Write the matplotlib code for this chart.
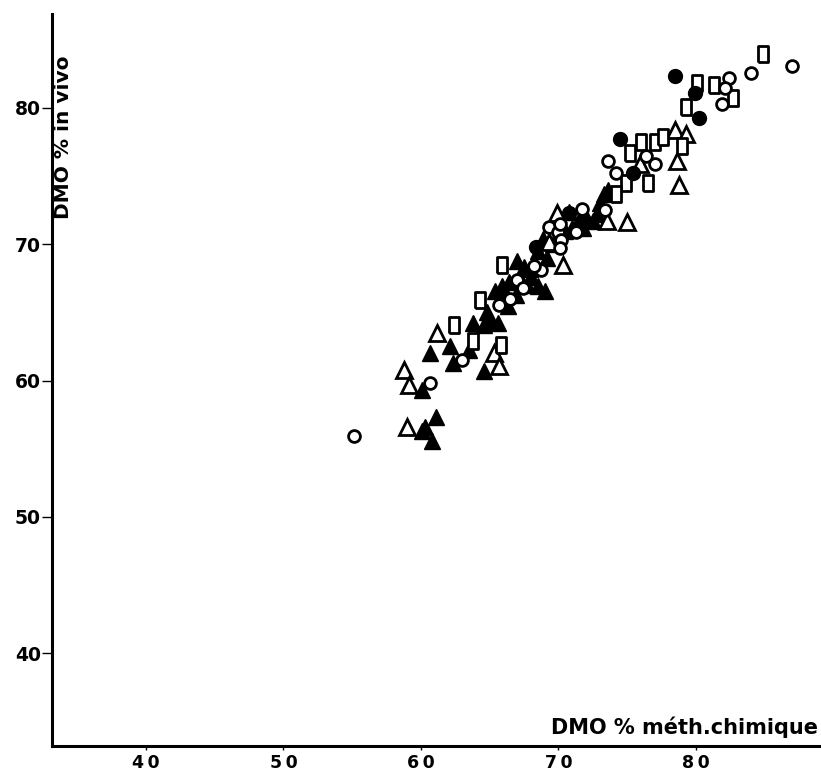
import numpy as np
import matplotlib
matplotlib.use("Agg")
import matplotlib.pyplot as plt

plt.rcParams.update({"font.family": "DejaVu Sans", "font.weight": "bold"})

# DMO % by chemical method (x) vs DMO % in vivo (y), one pair of lists per marker
open_circle_x = [86.96, 84.0, 82.4, 82.15, 81.9, 76.4, 77.0, 73.6, 74.2, 71.7,
                 73.4, 69.3, 70.0, 71.3, 70.2, 70.1, 68.7, 67.0, 66.5, 65.7,
                 62.95, 60.65, 55.1, 68.2, 70.1, 67.4]
open_circle_y = [83.1, 82.6, 82.2, 81.5, 80.3, 76.5, 75.9, 76.1, 75.2, 72.6,
                 72.5, 71.3, 70.9, 70.9, 70.3, 69.7, 68.1, 67.4, 66.0, 65.55,
                 61.5, 59.8, 55.95, 68.4, 71.5, 66.8]

filled_circle_x = [78.5, 79.9, 80.2, 74.5, 75.45, 70.8, 68.4]
filled_circle_y = [82.35, 81.1, 79.3, 77.7, 75.2, 72.3, 69.8]

open_square_x = [84.9, 80.05, 81.3, 82.7, 79.3, 78.96, 76.0, 77.0, 77.6, 75.2,
                 76.5, 74.9, 74.2, 65.9, 64.3, 62.4, 63.8, 65.8]
open_square_y = [83.96, 81.8, 81.7, 80.7, 80.1, 77.2, 77.5, 77.5, 77.85, 76.7,
                 74.5, 74.5, 73.7, 68.5, 65.9, 64.1, 62.9, 62.6]

open_tri_x = [78.5, 79.3, 78.6, 78.8, 75.9, 75.0, 73.5, 69.9, 69.3, 70.35,
              61.2, 65.3, 65.7, 58.8, 59.1, 58.95]
open_tri_y = [78.4, 78.1, 76.1, 74.35, 75.9, 71.6, 71.7, 72.3, 70.2, 68.5,
              63.5, 62.0, 61.1, 60.8, 59.7, 56.6]

filled_tri_x = [73.3, 73.6, 72.5, 67.9, 69.0, 65.4, 63.8, 65.6, 64.6, 65.0,
                60.65, 62.1, 62.3, 63.5, 64.6, 60.05, 61.1, 60.05, 60.8, 60.3,
                67.3, 66.4, 67.7, 68.5, 65.9, 67.5, 68.5, 71.5, 72.0, 66.3,
                64.8, 69.2, 70.5, 69.6, 66.9, 68.0, 71.0, 72.8, 73.0, 69.8,
                68.9, 67.0, 66.0, 70.8, 71.8]
filled_tri_y = [73.7, 74.0, 71.7, 68.2, 66.6, 66.6, 64.2, 64.2, 64.1, 64.45,
                62.0, 62.5, 61.3, 62.25, 60.7, 59.3, 57.35, 56.3, 55.55, 56.6,
                67.4, 67.2, 67.0, 66.9, 66.9, 68.3, 69.5, 71.8, 72.0, 65.5,
                65.0, 69.0, 71.0, 70.0, 66.3, 67.6, 71.2, 72.2, 73.0, 71.6,
                70.4, 68.8, 65.9, 72.4, 71.2]

x_ticks = [40, 50, 60, 70, 80]
y_ticks = [40, 50, 60, 70, 80]

# tall rectangle used in the original instead of a true square
RECT = [(-0.32, -0.5), (0.32, -0.5), (0.32, 0.5), (-0.32, 0.5), (-0.32, -0.5)]

fig = plt.figure(figsize=(8.21, 7.75), dpi=100)
ax = fig.add_axes([0.0633, 0.0374, 0.9367, 0.9446])

mew = 2.0
ax.plot(filled_tri_x, filled_tri_y, "^", ms=12, color="black", mec="black",
        mew=1.0, ls="none")
ax.plot(open_tri_x, open_tri_y, "^", ms=12, mfc="white", mec="black",
        mew=mew, ls="none")
ax.plot(open_square_x, open_square_y, marker=RECT, ms=12, mfc="white",
        mec="black", mew=mew, ls="none")
ax.plot(open_circle_x, open_circle_y, "o", ms=8.5, mfc="white", mec="black",
        mew=mew, ls="none")
ax.plot(filled_circle_x, filled_circle_y, "o", ms=10, color="black", ls="none")

ax.set_xlim(33.16, 89.1)
ax.set_ylim(33.18, 86.9)
ax.set_xticks(x_ticks)
ax.set_yticks(y_ticks)
ax.set_xticklabels([f"{v // 10}\u2009{v % 10}" for v in x_ticks],
                   fontsize=12.5, fontweight="bold")
ax.set_yticklabels([str(v) for v in y_ticks], fontsize=13.5, fontweight="bold")
ax.tick_params(axis="x", length=3, width=1, pad=3)
ax.tick_params(axis="y", length=7, width=1, pad=1)

for side in ("top", "right"):
    ax.spines[side].set_visible(False)
for side in ("left", "bottom"):
    ax.spines[side].set_linewidth(2.2)

ax.text(0.0145, 0.832, "DMO % in vivo", transform=ax.transAxes, rotation=90,
        ha="center", va="center", fontsize=14.5, fontweight="bold")
ax.text(0.996, 0.025, "DMO % méth.chimique", transform=ax.transAxes,
        ha="right", va="center", fontsize=15, fontweight="bold")

fig.savefig("out.png", dpi=100)
